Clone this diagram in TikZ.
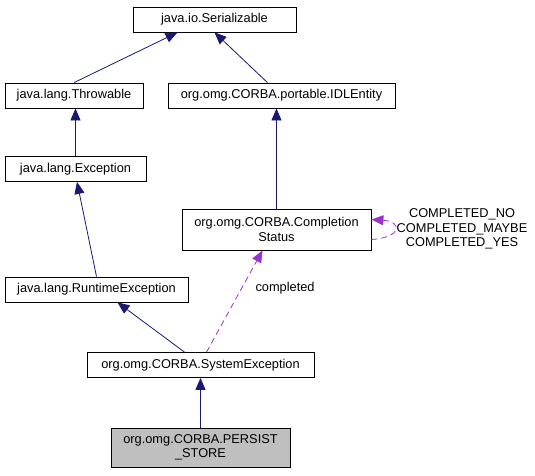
\documentclass[tikz,border=0pt]{standalone}
\usepackage{fontspec}
\setmainfont{Liberation Sans}
\usetikzlibrary{arrows.meta}
\definecolor{edgeblue}{RGB}{25,25,112}
\definecolor{usepurple}{RGB}{154,50,205}
\definecolor{boxgray}{RGB}{191,191,191}

\begin{document}
\begin{tikzpicture}[x=1pt, y=-1pt, font=\fontsize{12.8}{14.5}\selectfont,
  cls/.style={draw=black, fill=white, line width=0.8pt, minimum height=25pt, inner sep=2pt, align=center},
  gen/.style={draw=edgeblue, line width=0.8pt, -{Triangle[length=12pt,width=10pt]}},
  use/.style={draw=usepurple, line width=0.8pt, dash pattern=on 6pt off 4pt, -{Triangle[length=12pt,width=10pt]}},
  lbl/.style={align=center}]
  \useasboundingbox (0,0) rectangle (535,475);
  \node[cls, minimum width=163pt] (ser) at (214.5,19.5) {java.io.Serializable};
  \node[cls, minimum width=138pt] (thr) at (74,95.5) {java.lang.Throwable};
  \node[cls, minimum width=227pt] (idl) at (281.5,95.5) {org.omg.CORBA.portable.IDLEntity};
  \node[cls, minimum width=141pt] (exc) at (75.5,169) {java.lang.Exception};
  \node[cls, minimum width=189pt, minimum height=41pt] (cs) at (276.5,229.5) {org.omg.CORBA.Completion\\Status};
  \node[cls, minimum width=183pt] (rt) at (96.5,289.5) {java.lang.RuntimeException};
  \node[cls, minimum width=227pt] (sys) at (200.5,365) {org.omg.CORBA.SystemException};
  \node[cls, fill=boxgray, minimum width=179pt, minimum height=39pt] (ps) at (200.5,447.5) {org.omg.CORBA.PERSIST\\\_STORE};
  % inheritance
  \draw[gen] (thr.north) -- ([xshift=-37pt]ser.south);
  \draw[gen] ([xshift=-14pt]idl.north) -- (ser.south);
  \draw[gen] (exc.north) -- (exc.north |- thr.south);
  \draw[gen] (cs.north) -- (cs.north |- idl.south);
  \draw[gen] (rt.north) -- ([xshift=1.5pt]exc.south);
  \draw[gen] ([xshift=-16pt]sys.north) -- ([xshift=21pt]rt.south);
  \draw[gen] (ps.north) -- (sys.south);
  % usage
  \draw[use] ([xshift=6pt]sys.north) -- node[lbl, pos=0.63, anchor=west, xshift=10pt] {completed} ([xshift=-14pt]cs.south);
  \draw[use] ([yshift=-10pt]cs.east) .. controls +(31,-2) and +(31,2) .. ([yshift=10pt]cs.east);
  \node[lbl] (vals) at (462,229) {COMPLETED\_NO\\COMPLETED\_MAYBE\\COMPLETED\_YES};
\end{tikzpicture}
\end{document}
